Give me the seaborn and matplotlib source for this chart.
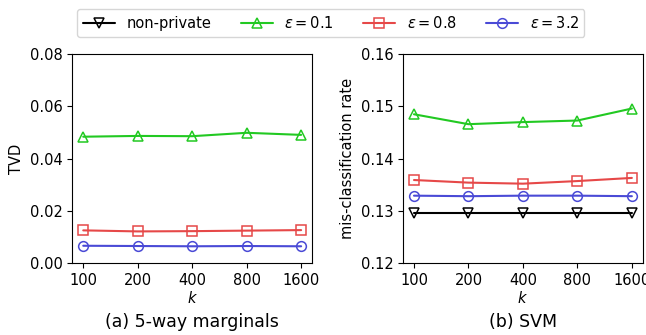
import seaborn as sns
import matplotlib.pyplot as plt
import pandas as pd

sns.set_style("ticks", {"text.color": "black", "axes.labelcolor": "black",
                        "xtick.color": "black", "ytick.color": "black",
                        "axes.edgecolor": "black"})
plt.rcParams["font.family"] = ["DejaVu Sans"]

k_values = ["100", "200", "400", "800", "1600"]

# (a) 5-way marginals, TVD
tvd_eps01 = [0.0484, 0.0487, 0.0486, 0.0499, 0.0491]
tvd_eps08 = [0.0125, 0.0121, 0.0122, 0.0124, 0.0126]
tvd_eps32 = [0.0066, 0.0065, 0.0064, 0.0065, 0.0064]

# (b) SVM, mis-classification rate
svm_nonpriv = [0.1295, 0.1295, 0.1295, 0.1295, 0.1295]
svm_eps01 = [0.1485, 0.1466, 0.1470, 0.1473, 0.1496]
svm_eps08 = [0.1359, 0.1354, 0.1352, 0.1357, 0.1363]
svm_eps32 = [0.1329, 0.1328, 0.1329, 0.1329, 0.1328]

labels = ["non-private", r"$\epsilon = 0.1$", r"$\epsilon = 0.8$", r"$\epsilon = 3.2$"]
colors = {"non-private": "black", labels[1]: "#22c922",
          labels[2]: "#e64848", labels[3]: "#4a4ad6"}
markers = {"non-private": "v", labels[1]: "^", labels[2]: "s", labels[3]: "o"}


def to_long(series):
    rows = []
    for name, vals in series.items():
        for k, v in zip(k_values, vals):
            rows.append({"k": k, "value": v, "method": name})
    return pd.DataFrame(rows)


df_a = to_long({labels[1]: tvd_eps01, labels[2]: tvd_eps08, labels[3]: tvd_eps32})
df_b = to_long({labels[0]: svm_nonpriv, labels[1]: svm_eps01,
                labels[2]: svm_eps08, labels[3]: svm_eps32})

fig, axes = plt.subplots(1, 2, figsize=(6.46, 3.35), dpi=100)
fig.subplots_adjust(left=0.112, right=0.995, top=0.838, bottom=0.215, wspace=0.38)

FS = 10.5


def draw(ax, df):
    for name in labels:
        sub = df[df["method"] == name]
        if sub.empty:
            continue
        sns.lineplot(data=sub, x="k", y="value", ax=ax, color=colors[name],
                     marker=markers[name], markersize=7, markerfacecolor="none",
                     markeredgecolor=colors[name], markeredgewidth=1.1,
                     linewidth=1.5, label=name, sort=False)
    ax.set_xlim(-0.2, 4.2)
    ax.set_xlabel("$k$", fontsize=FS, labelpad=2)
    ax.tick_params(labelsize=FS)
    ax.get_legend().remove()


draw(axes[0], df_a)
axes[0].set_ylim(0, 0.08)
axes[0].set_yticks([0, 0.02, 0.04, 0.06, 0.08])
axes[0].set_ylabel("TVD", fontsize=FS)

draw(axes[1], df_b)
axes[1].set_ylim(0.12, 0.16)
axes[1].set_yticks([0.12, 0.13, 0.14, 0.15, 0.16])
axes[1].set_ylabel("mis-classification rate", fontsize=FS)

for ax, cap in zip(axes, ["(a) 5-way marginals", "(b) SVM"]):
    pos = ax.get_position()
    fig.text((pos.x0 + pos.x1) / 2, 0.038, cap, ha="center", va="center", fontsize=12.5)

handles, labs = axes[1].get_legend_handles_labels()
fig.legend(handles, labs, loc="upper center", ncol=4, fontsize=FS,
           bbox_to_anchor=(0.512, 0.995), frameon=True, columnspacing=2.0,
           handlelength=2.2)

fig.savefig("out.png", dpi=100)
